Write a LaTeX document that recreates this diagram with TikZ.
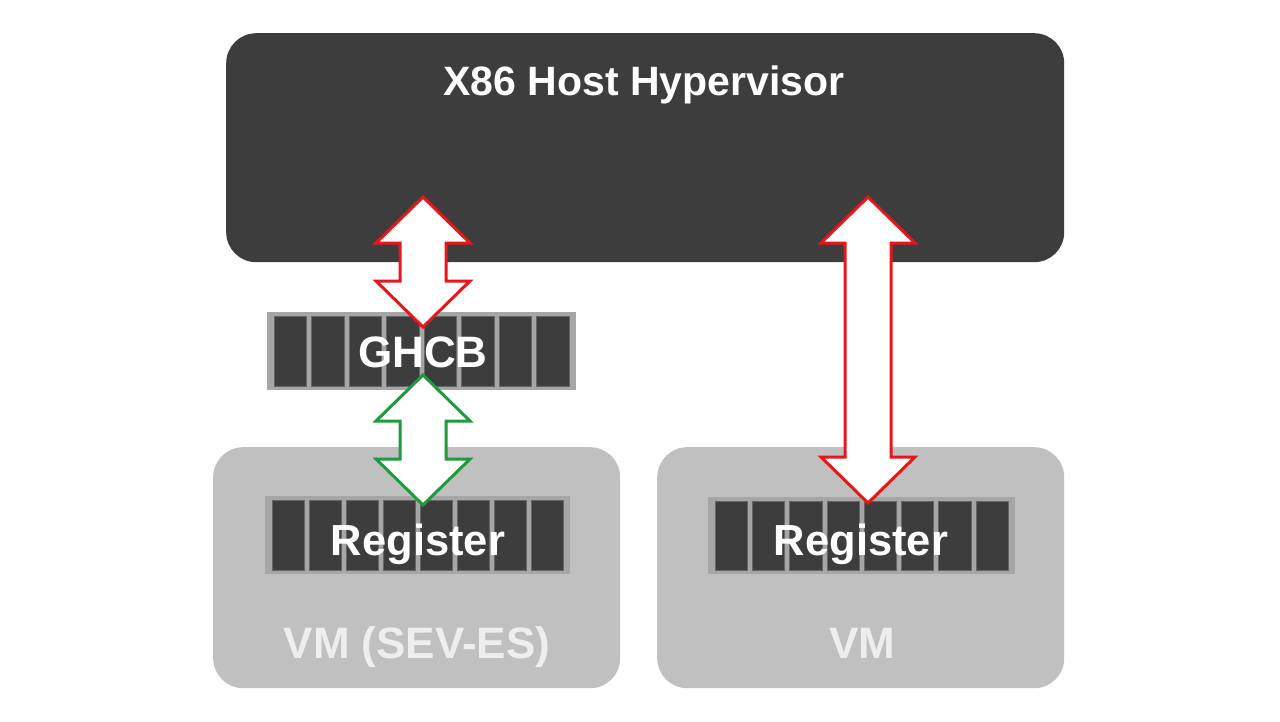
\documentclass[tikz,border=0pt]{standalone}
\usepackage{fontspec}
\setmainfont{Liberation Sans}
\definecolor{hostdark}{HTML}{3D3D3D}
\definecolor{vmgrey}{HTML}{C0C0C0}
\definecolor{framegrey}{HTML}{A6A6A6}
\definecolor{arrred}{HTML}{E8151B}
\definecolor{arrgreen}{HTML}{1E9B3C}
\definecolor{vmtext}{HTML}{EEEEEE}
\tikzset{
  hostbox/.style={fill=hostdark, draw=none, rounded corners=30pt},
  vmbox/.style={fill=vmgrey, draw=none, rounded corners=30pt},
  barframe/.style={fill=framegrey, draw=none},
  barcell/.style={fill=hostdark, draw=black!60, line width=0.4pt},
  bigtext/.style={text=white, font=\bfseries\fontsize{41}{41}\selectfont, inner sep=0pt},
  regtext/.style={text=white, font=\bfseries\fontsize{43.5}{43.5}\selectfont, inner sep=0pt},
  vmlabel/.style={text=vmtext, font=\bfseries\fontsize{44}{44}\selectfont, inner sep=0pt},
  dblarrowline/.style={fill=white, line width=3pt, line join=miter},
}
% #1 = name of top end, #2 = name of bottom end, #3 = colour
\newcommand{\myDblArrow}[3]{%
  \draw[dblarrowline, draw=#3]
    (#1) -- ([shift={(47,46)}]#1) -- ([shift={(23,46)}]#1)
    -- ([shift={(23,-46)}]#2) -- ([shift={(47,-46)}]#2) -- (#2)
    -- ([shift={(-47,-46)}]#2) -- ([shift={(-23,-46)}]#2)
    -- ([shift={(-23,46)}]#1) -- ([shift={(-47,46)}]#1) -- cycle;}
% #1 = left x, #2 = top y, #3 = right x, #4 = bottom y, #5 = name
\newcommand{\myRegBar}[5]{%
  \node[barframe, minimum width=#3-#1, minimum height=#4-#2, anchor=north west, inner sep=0pt] (#5) at (#1,#2) {};
  \foreach \i in {0,...,7} {
    \pgfmathsetmacro{\pitch}{(#3-#1-9)/8}
    \pgfmathsetmacro{\cx}{#1+4.5+\i*\pitch+2.5}
    \pgfmathsetmacro{\cw}{\pitch-5}
    \draw[barcell] (\cx,#2+4) rectangle (\cx+\cw,#4-4);
  }}
\begin{document}
\begin{tikzpicture}[x=1pt,y=-1pt]
\useasboundingbox (0,0) rectangle (1280,721);
\fill[white] (0,0) rectangle (1280,721);
% host
\node[hostbox, minimum width=838pt, minimum height=229pt, anchor=north west, inner sep=0pt] (host) at (226,33) {};
% VMs
\node[vmbox, minimum width=407pt, minimum height=241pt, anchor=north west, inner sep=0pt] (vmleft) at (213,447) {};
\node[vmbox, minimum width=407pt, minimum height=241pt, anchor=north west, inner sep=0pt] (vmright) at (657,447) {};
% bars
\myRegBar{267}{312}{576}{390}{ghcbbar}
\myRegBar{265}{496}{570}{574}{regleft}
\myRegBar{708}{497}{1015}{574}{regright}
% arrow end points
\coordinate (a1t) at (423,197);
\coordinate (a1b) at (423,327);
\coordinate (a2t) at (423,375);
\coordinate (a2b) at (423,505);
\coordinate (a3t) at (868,197);
\coordinate (a3b) at (868,503);
\myDblArrow{a1t}{a1b}{arrred}
\myDblArrow{a2t}{a2b}{arrgreen}
\myDblArrow{a3t}{a3b}{arrred}
% texts
\node[bigtext, anchor=base] (title) at (644,95) {X86 Host Hypervisor};
\node[regtext, anchor=base, font=\bfseries\fontsize{44}{44}\selectfont] (ghcb) at (423,367) {GHCB};
\node[regtext, anchor=base] (regl) at (418,555) {Register};
\node[regtext, anchor=base] (regr) at (861,555) {Register};
\node[vmlabel, anchor=base] (vml) at (417,658) {VM (SEV-ES)};
\node[vmlabel, anchor=base] (vmr) at (862,658) {VM};
\end{tikzpicture}
\end{document}
